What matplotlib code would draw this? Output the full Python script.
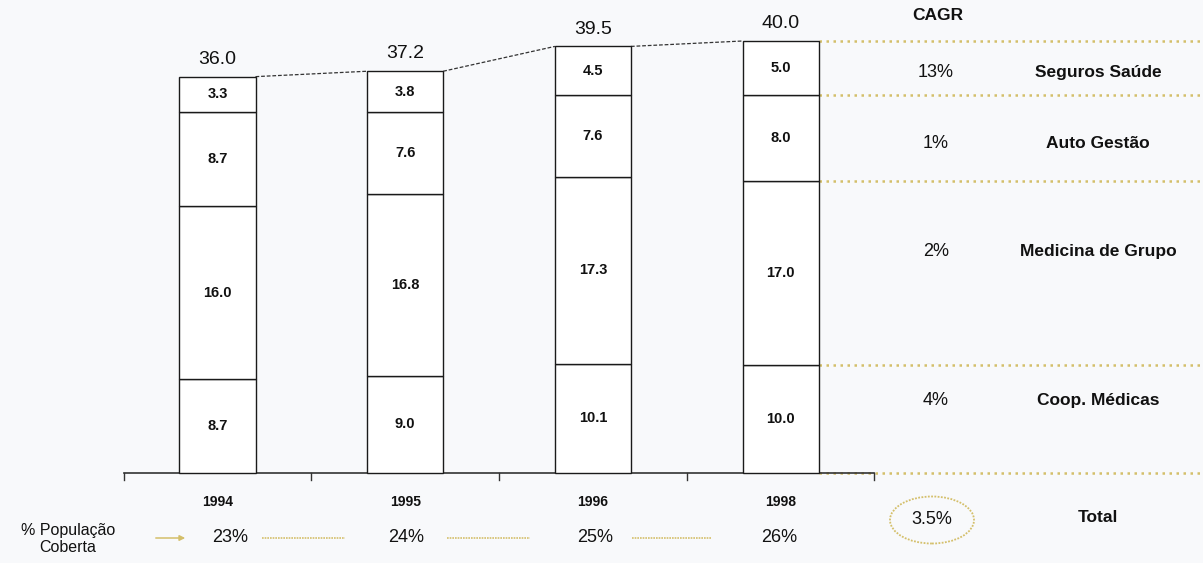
import matplotlib
matplotlib.use("Agg")
import matplotlib.pyplot as plt
from matplotlib.patches import Ellipse
import numpy as np

plt.rcParams['font.family'] = ['Liberation Sans', 'DejaVu Sans']

# ---- data ----
years = ["1994", "1995", "1996", "1998"]
coop = [8.7, 9.0, 10.1, 10.0]
medicina = [16.0, 16.8, 17.3, 17.0]
auto = [8.7, 7.6, 7.6, 8.0]
seguros = [3.3, 3.8, 4.5, 5.0]
totals = [36.0, 37.2, 39.5, 40.0]
segment_names = ["Coop. Médicas", "Medicina de Grupo", "Auto Gestão", "Seguros Saúde"]
cagr = ["4%", "2%", "1%", "13%"]
pop_cov = ["23%", "24%", "25%", "26%"]
total_cagr = "3.5%"

W, H = 1203, 563
fig = plt.figure(figsize=(W / 100, H / 100), dpi=100)
bg = '#f8f9fb'
fig.patch.set_facecolor(bg)
ax = fig.add_axes([0, 0, 1, 1])
ax.set_facecolor(bg)
ax.axis('off')

x0_px, dx_px = 217.5, 187.7
y0_px, dy_px = 473.0, 10.8
ax.set_xlim(-x0_px / dx_px, (W - x0_px) / dx_px)
ax.set_ylim(-(H - y0_px) / dy_px, y0_px / dy_px)


def P(xp, yp):
    """pixel (from top-left) -> data coords"""
    return (xp - x0_px) / dx_px, (y0_px - yp) / dy_px


x = np.arange(len(years))
bw = 0.405
series = [coop, medicina, auto, seguros]
bottom = np.zeros(len(years))
bounds = [bottom.copy()]
for s in series:
    vals = np.array(s)
    ax.bar(x, vals, bw, bottom=bottom, color='white', edgecolor='#1a1a1a', lw=1.0, zorder=3)
    for xi, b, v in zip(x, bottom, vals):
        ax.text(xi, b + v / 2, f"{v:.1f}", ha='center', va='center', fontsize=10.5,
                fontweight='bold', color='#111', zorder=4)
    bottom = bottom + vals
    bounds.append(bottom.copy())

# totals above bars
for xi, top, t in zip(x, bottom, totals):
    ax.text(xi, top + 1.6, f"{t:.1f}", ha='center', va='center', fontsize=14, color='#111')

# dashed connectors between tops
for i in range(len(years) - 1):
    ax.plot([x[i] + bw / 2, x[i + 1] - bw / 2], [bottom[i], bottom[i + 1]],
            ls=(0, (3, 1.5)), color='#333', lw=0.9, zorder=2)

# baseline with ticks
xl = -0.5
xr = len(years) - 0.5
ax.plot([xl, xr], [0, 0], color='#333', lw=1.2, zorder=2)
for tx in np.arange(-0.5, len(years), 1.0):
    ax.plot([tx, tx], [0, -0.65], color='#333', lw=1.0)

# year labels
for xi, yr in zip(x, years):
    ax.text(xi, P(0, 502)[1], yr, ha='center', va='center', fontsize=10,
            fontweight='bold', color='#111')

gold = '#d4bf6a'
# dotted gold lines at 1998 boundaries
last = len(years) - 1
xr_bar = x[last] + bw / 2
for b in bounds:
    ax.plot([xr_bar, P(W, 0)[0]], [b[last], b[last]], ls=(0, (1, 1.8)), color=gold, lw=1.8,
            zorder=1)

# CAGR header
cx = P(936, 0)[0]
lx = P(1098, 0)[0]
ax.text(P(938, 0)[0], P(0, 16)[1], "CAGR", ha='center', va='center', fontsize=12.5,
        fontweight='bold', color='#111')
fracs = [0.67, 0.62, 0.44, 0.42]
for k in range(4):
    lo = bounds[k][last]
    hi = bounds[k + 1][last]
    yy = lo + fracs[k] * (hi - lo)
    ax.text(cx, yy, cagr[k], ha='center', va='center', fontsize=13, color='#111')
    ax.text(lx, yy, segment_names[k], ha='center', va='center', fontsize=12.5,
            fontweight='bold', color='#111')

# bottom row: population covered
ax.text(*P(68, 539), "% População\nCoberta", ha='center', va='center', fontsize=11.5,
        color='#111', linespacing=1.15)
yb = P(0, 538)[1]
pct_px = [230, 406, 595, 779]
for xp, p in zip(pct_px, pop_cov):
    ax.text(P(xp, 0)[0], yb, p, ha='center', va='center', fontsize=13, color='#111')
segs = [(262, 345), (447, 530), (632, 712)]
for a, b in segs:
    ax.plot([P(a, 0)[0], P(b, 0)[0]], [yb, yb], color=gold, lw=1.2, ls=(0, (1, 0.6)))
ax.annotate("", xy=P(188, 538), xytext=P(153, 538),
            arrowprops=dict(arrowstyle='-|>', color=gold, lw=1.1, mutation_scale=8))

# total CAGR ellipse
ecx, ecy = P(932, 520)
ax.add_patch(Ellipse((ecx, ecy), 84 / dx_px, 47 / dy_px, fill=False, edgecolor=gold,
                     lw=1.3, ls=(0, (1, 0.8))))
ax.text(ecx, ecy, total_cagr, ha='center', va='center', fontsize=13, color='#111')
ax.text(lx, P(0, 518)[1], "Total", ha='center', va='center', fontsize=12.5,
        fontweight='bold', color='#111')

fig.savefig("out.png", dpi=100, facecolor=fig.get_facecolor())
